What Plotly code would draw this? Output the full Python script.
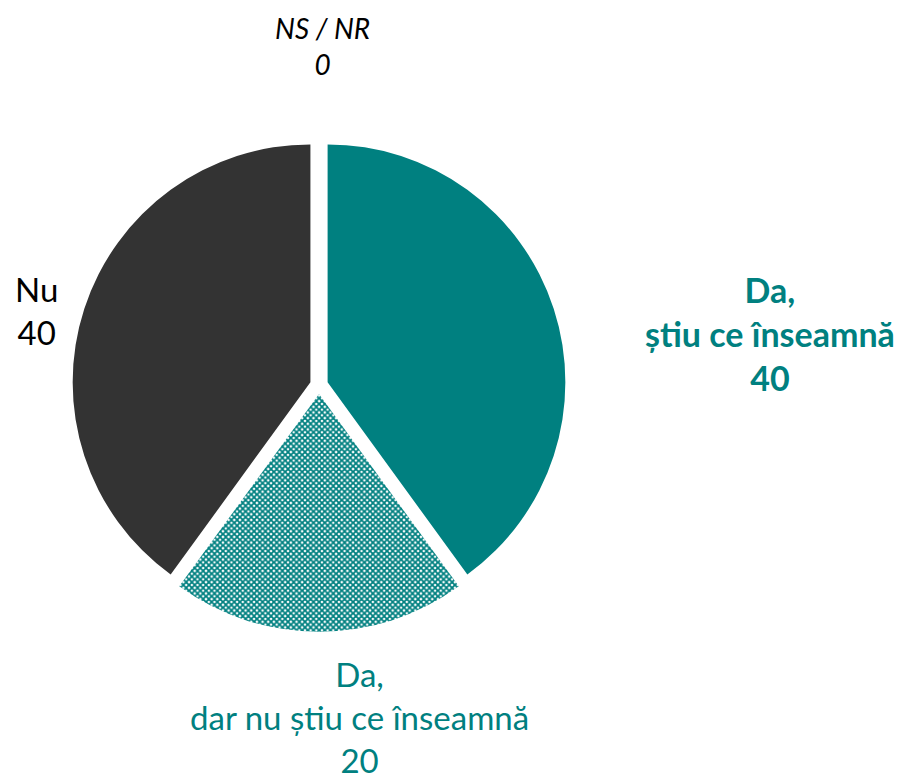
import plotly.graph_objects as go

categories = ["Da,<br>știu ce înseamnă", "Da,<br>dar nu știu ce înseamnă", "Nu", "NS / NR"]
values = [40, 20, 40, 0]
colors = ["#008080", "#008080", "#333333", "#bfbfbf"]

TEAL = "#008080"
FONT = "Lato"
W, H = 902, 781
OFF = 8  # page body margin offset

fig = go.Figure()
fig.add_trace(go.Pie(
    labels=categories,
    values=values,
    sort=False,
    direction="clockwise",
    rotation=0,
    pull=[0.038] * len(values),
    textinfo="none",
    hoverinfo="label+value",
    marker=dict(
        colors=colors,
        line=dict(width=0),
        pattern=dict(
            shape=["", "x", "", ""],
            fgcolor=["#008080", "#008080", "#333333", "#bfbfbf"],
            bgcolor=["#008080", "#ffffff", "#333333", "#bfbfbf"],
            size=4,
            solidity=0.7,
        ),
    ),
    domain=dict(x=[0.0712, 0.6184], y=[0.2013, 0.8333]),
    showlegend=False,
))

# labels: (text, x px, y px, color, size)
label_specs = [
    (f"<b>{categories[0]}<br>{values[0]}</b>", 770, 333, TEAL, 34),
    (f"{categories[1]}<br>{values[1]}", 359, 717, TEAL, 33),
    (f"{categories[2]}<br>{values[2]}", 36, 310, "#000000", 33),
    (f"<i>{categories[3]}<br>{values[3]}</i>", 322, 46, "#000000", 28),
]
for text, x, y, col, sz in label_specs:
    fig.add_annotation(
        text=text, x=(x - OFF) / W, y=1 - (y - OFF) / H, xref="paper", yref="paper",
        xanchor="center", yanchor="middle", showarrow=False,
        align="center", font=dict(family=FONT, size=sz, color=col),
    )

fig.update_layout(
    width=W, height=H,
    margin=dict(l=0, r=0, t=0, b=0),
    paper_bgcolor="white", plot_bgcolor="white",
    font=dict(family=FONT),
)

fig.write_html("out.html")
